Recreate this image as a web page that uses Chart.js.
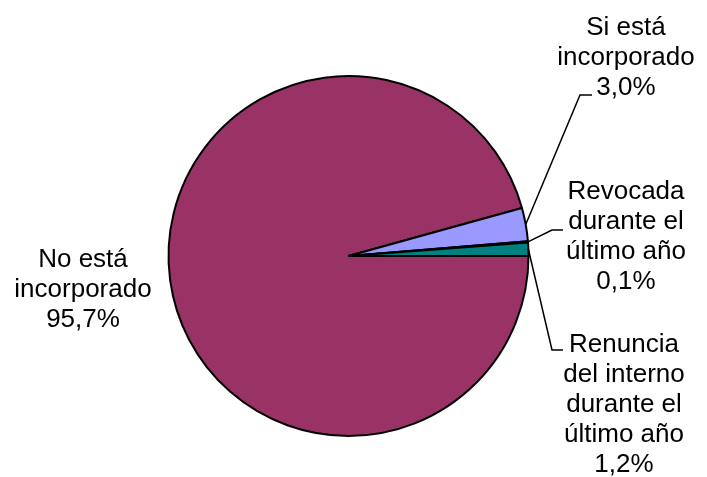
<!DOCTYPE html>
<html>
<head>
<meta charset="utf-8">
<script src="https://cdn.jsdelivr.net/npm/chart.js@4/dist/chart.umd.min.js"></script>
<style>
	html, body { margin: 0; padding: 0; background: #fff; }
	#contenedor { position: relative; width: 707px; height: 477px; }
</style>
</head>
<body>
<div id="contenedor">
	<canvas id="graficoTorta"></canvas>
</div>
<script>
// Datos del grafico (sentido horario, partiendo de las 3 en punto)
const categorias = [
	["No está", "incorporado"],
	["Si está", "incorporado"],
	["Revocada", "durante el", "último año"],
	["Renuncia", "del interno", "durante el", "último año"]
];
const porcentajes = [95.7, 3.0, 0.1, 1.2];
const colores = ["#993366", "#9999FF", "#FFFFCC", "#008080"];

// Donde va cada etiqueta: centro del texto, primera linea base y
// el codo de la linea guia (null = sin linea)
const posEtiquetas = [
	{ x: 83,  y: 267, codo: null },
	{ x: 626, y: 35,  codo: [580, 95, 592] },
	{ x: 626, y: 199, codo: [552, 230, 563] },
	{ x: 624, y: 352, codo: [552, 350, 563] }
];

const formatear = v => v.toFixed(1).replace(".", ",") + "%";

//Plugin que dibuja las etiquetas externas con sus lineas guia
const etiquetasExternas = {
	id: "etiquetasExternas",
	afterDraw(chart) {
		const ctx = chart.ctx;
		const arcos = chart.getDatasetMeta(0).data;
		ctx.save();
		ctx.font = "26px 'Liberation Sans', Arial, sans-serif";
		ctx.fillStyle = "#000";
		ctx.strokeStyle = "#000";
		ctx.lineWidth = 1.5;
		ctx.textAlign = "center";
		ctx.textBaseline = "alphabetic";

		arcos.forEach((arco, i) => {
			let p = posEtiquetas[i];
			let lineas = categorias[i].concat([formatear(porcentajes[i])]);

			if (p.codo) {
				let props = arco.getProps(["x", "y", "startAngle", "endAngle", "outerRadius"], true);
				let medio = (props.startAngle + props.endAngle) / 2;
				let x0 = props.x + Math.cos(medio) * props.outerRadius;
				let y0 = props.y + Math.sin(medio) * props.outerRadius;
				ctx.beginPath();
				ctx.moveTo(x0, y0);
				ctx.lineTo(p.codo[0], p.codo[1]);
				ctx.lineTo(p.codo[2], p.codo[1]);
				ctx.stroke();
			}

			lineas.forEach((texto, j) => {
				ctx.fillText(texto, p.x, p.y + j * 30);
			});
		});
		ctx.restore();
	}
};

new Chart("graficoTorta", {
	type: "pie",
	data: {
		labels: categorias.map(c => c.join(" ")),
		datasets: [{
			data: porcentajes,
			backgroundColor: colores,
			borderColor: "#000",
			borderWidth: 2
		}]
	},
	options: {
		responsive: true,
		maintainAspectRatio: false,
		animation: false,
		rotation: 90,
		layout: { padding: { left: 167, right: 177, top: 75, bottom: 40 } },
		plugins: {
			legend: { display: false },
			tooltip: { enabled: false }
		}
	},
	plugins: [etiquetasExternas]
});
</script>
</body>
</html>
